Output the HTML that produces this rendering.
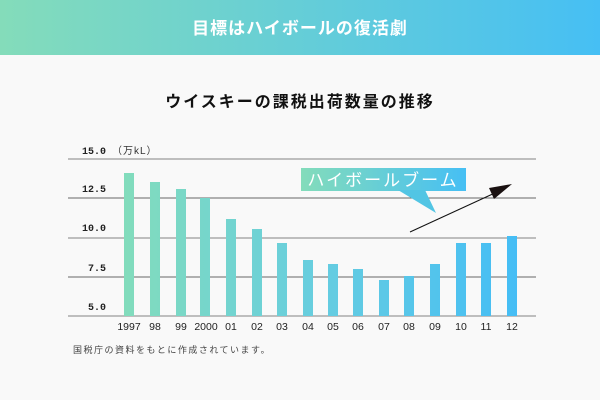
<!DOCTYPE html>
<html><head><meta charset="utf-8"><style>
html,body{margin:0;padding:0}
body{width:600px;height:400px;overflow:hidden;background:#f9f9f9;font-family:"Liberation Sans","Noto Sans CJK JP",sans-serif}
</style></head><body>
<svg width="600" height="400" xmlns="http://www.w3.org/2000/svg" style="display:block">
<defs>
<linearGradient id="hd" x1="0" x2="1" y1="0" y2="0"><stop offset="0" stop-color="#84dcba"/><stop offset="1" stop-color="#46bff4"/></linearGradient>
<linearGradient id="bg" gradientUnits="userSpaceOnUse" x1="124" x2="517" y1="0" y2="0"><stop offset="0" stop-color="#82dcbc"/><stop offset="0.5" stop-color="#66cde0"/><stop offset="1" stop-color="#45bdf5"/></linearGradient>
<linearGradient id="cb" gradientUnits="userSpaceOnUse" x1="300" x2="466" y1="0" y2="0"><stop offset="0" stop-color="#84dcba"/><stop offset="1" stop-color="#46bff4"/></linearGradient>
</defs>
<rect x="0" y="0" width="600" height="55" fill="url(#hd)"/>
<text x="300" y="34" text-anchor="middle" fill="#fff" font-size="17" font-weight="bold" letter-spacing="1" font-family="Liberation Sans,Noto Sans CJK JP,sans-serif">目標はハイボールの復活劇</text>
<text x="300" y="107" text-anchor="middle" fill="#111" font-size="16" font-weight="bold" letter-spacing="2" font-family="Liberation Sans,Noto Sans CJK JP,sans-serif">ウイスキーの課税出荷数量の推移</text>
<g stroke="#aaa" stroke-width="1.5">
<line x1="68" x2="536" y1="159" y2="159"/>
<line x1="68" x2="536" y1="198" y2="198" stroke="#666" stroke-width="1"/>
<line x1="68" x2="536" y1="238" y2="238"/>
<line x1="68" x2="536" y1="277" y2="277" stroke="#666" stroke-width="1"/>
<line x1="68" x2="536" y1="316" y2="316"/>
</g>
<g font-size="10" fill="#222" font-family="Liberation Mono,monospace" font-weight="bold" text-anchor="end">
<text x="106" y="154">15.0</text><text x="106" y="192">12.5</text><text x="106" y="231">10.0</text><text x="106" y="271">7.5</text><text x="106" y="310">5.0</text>
</g>
<text x="112" y="154" font-size="10" fill="#333" font-family="Liberation Sans,Noto Sans CJK JP,sans-serif" letter-spacing="1">（万kL）</text>
<g fill="url(#bg)">
<rect x="124" y="173" width="10" height="143"/>
<rect x="150" y="182" width="10" height="134"/>
<rect x="176" y="189" width="10" height="127"/>
<rect x="200" y="198" width="10" height="118"/>
<rect x="226" y="219" width="10" height="97"/>
<rect x="252" y="229" width="10" height="87"/>
<rect x="277" y="243" width="10" height="73"/>
<rect x="303" y="260" width="10" height="56"/>
<rect x="328" y="264" width="10" height="52"/>
<rect x="353" y="269" width="10" height="47"/>
<rect x="379" y="280" width="10" height="36"/>
<rect x="404" y="276" width="10" height="40"/>
<rect x="430" y="264" width="10" height="52"/>
<rect x="456" y="243" width="10" height="73"/>
<rect x="481" y="243" width="10" height="73"/>
<rect x="507" y="236" width="10" height="80"/>
</g>
<g font-size="10.5" fill="#222" text-anchor="middle" font-family="Liberation Sans,sans-serif">
<text x="129" y="330">1997</text><text x="155" y="330">98</text><text x="181" y="330">99</text><text x="206" y="330">2000</text><text x="231" y="330">01</text><text x="257" y="330">02</text><text x="282" y="330">03</text><text x="308" y="330">04</text><text x="333" y="330">05</text><text x="358" y="330">06</text><text x="384" y="330">07</text><text x="409" y="330">08</text><text x="435" y="330">09</text><text x="461" y="330">10</text><text x="486" y="330">11</text><text x="512" y="330">12</text>
</g>
<text x="73" y="353" font-size="9" fill="#444" letter-spacing="1.5" font-family="Liberation Sans,Noto Sans CJK JP,sans-serif">国税庁の資料をもとに作成されています。</text>
<rect x="301" y="168" width="165" height="23" fill="url(#cb)"/>
<polygon points="398,190 425,190 436,213" fill="#52c5e4"/>
<text x="383" y="186" text-anchor="middle" fill="#fff" font-size="17" letter-spacing="2" font-family="Liberation Sans,Noto Sans CJK JP,sans-serif">ハイボールブーム</text>
<line x1="410" y1="232" x2="497" y2="192" stroke="#111" stroke-width="1"/>
<polygon points="512,184 489,188 494,199" fill="#1a1111"/>
</svg>
</body></html>
